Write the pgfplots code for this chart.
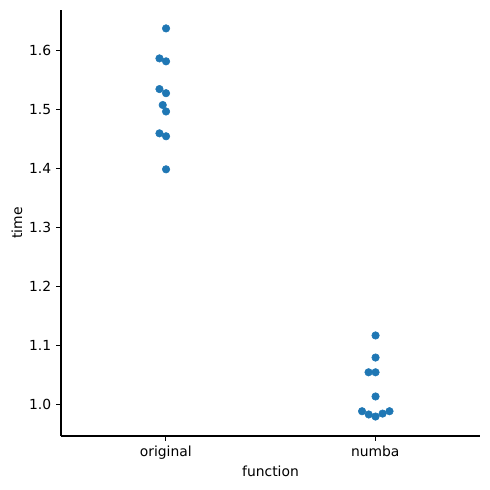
\documentclass[border=0pt]{standalone}
\usepackage{fontspec}
\setmainfont{DejaVu Sans}
\usepackage{pgfplots}
\pgfplotsset{compat=1.18}
\definecolor{sbblue}{HTML}{1F77B4}
\begin{document}
\begin{tikzpicture}[x=0.72pt,y=0.72pt]
\useasboundingbox (0,0) rectangle (490,489);
\begin{axis}[
  at={(61*0.72pt,53*0.72pt)}, anchor=south west,
  scale only axis, width=301.68pt, height=306.72pt,
  xmin=-0.5, xmax=1.5, ymin=0.946, ymax=1.668,
  axis x line*=bottom, axis y line*=left,
  axis line style={line width=0.8pt, black, -},
  xtick={0,1}, xticklabels={original,numba},
  ytick={1.0,1.1,1.2,1.3,1.4,1.5,1.6},
  yticklabel style={/pgf/number format/.cd,fixed,fixed zerofill,precision=1},
  /pgf/number format/assume math mode=true,
  tick align=outside, tick style={black, line width=0.8pt},
  major tick length=3.5pt,
  ticklabel style={font=\fontsize{10}{12}\selectfont},
  label style={font=\fontsize{10}{12}\selectfont},
  xlabel={function}, ylabel={time},
  xlabel style={yshift=2pt},
  ylabel style={yshift=-2pt},
  clip=false,
]
\addplot[only marks, mark=*, mark size=2.7pt, color=sbblue, mark options={draw=none, fill=sbblue}] coordinates {
(0.0014,1.6368) (-0.030,1.586) (0.0014,1.581) (-0.030,1.534) (0.0014,1.527)
(-0.0144,1.507) (0.0014,1.496) (-0.030,1.459) (0.0014,1.454) (0.0014,1.398)
};
\addplot[only marks, mark=*, mark size=2.7pt, color=sbblue, mark options={draw=none, fill=sbblue}] coordinates {
(1.0014,1.1164) (1.0014,1.079) (0.968,1.054) (1.0014,1.054) (1.0014,1.013)
(0.937,0.988) (0.969,0.9825) (1.0014,0.979) (1.035,0.984) (1.068,0.988)
};
\end{axis}
\end{tikzpicture}
\end{document}
